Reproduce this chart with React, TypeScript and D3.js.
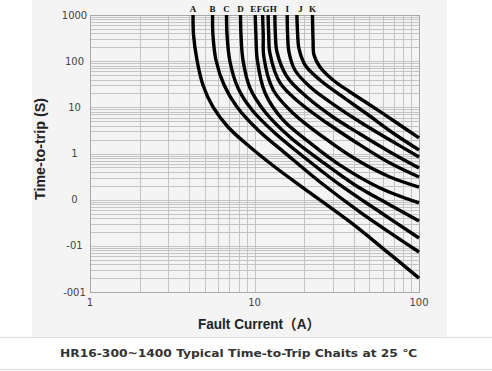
import React from 'react';
import * as d3 from 'd3';

// Trip curves: [fault current (A), time-to-trip (s)]
const curveA = [[4.23,1000],[4.26,369],[4.47,106],[4.86,30.5],[5.59,10.2],[6.90,3.75],[9.39,1.38],[13.3,0.51],[21.8,0.14],[38.1,0.0329],[62.1,0.0081],[100,0.0020]];
const curveB = [[5.56,1000],[5.59,369],[5.83,106],[6.53,30.5],[7.83,10.2],[10.5,3.23],[15.3,1.03],[25.0,0.241],[43.8,0.054],[100,0.00736]];
const curveC = [[6.76,1000],[6.81,369],[7.10,95.9],[7.94,26.2],[9.66,8.75],[13.3,2.78],[20.3,0.80],[33.1,0.208],[57.9,0.054],[100,0.0148]];
const curveD = [[8.22,1000],[8.28,369],[8.51,106],[9.39,26.2],[11.6,7.93],[16.4,2.28],[25.0,0.72],[40.8,0.208],[66.6,0.0767],[100,0.0345]];
const curveE = [[10.1,1000],[10.2,369],[10.4,106],[11.6,20.4],[14.9,5.32],[21.8,1.69],[33.1,0.56],[57.9,0.179],[100,0.085]];
const curveF = [[11.2,1000],[11.3,369],[11.4,123],[13.0,23.7],[17.1,7.54],[26.1,2.28],[42.0,0.72],[66.6,0.31],[100,0.188]];
const curveG = [[12.1,1000],[12.2,369],[12.4,150],[14.3,33.7],[18.9,12.4],[27.6,4.58],[42.0,1.69],[66.6,0.62],[100,0.31]];
const curveH = [[13.3,1000],[13.4,369],[13.7,158],[15.8,45.4],[20.8,16.7],[30.0,6.18],[43.8,2.65],[66.6,1.08],[100,0.485]];
const curveI = [[15.8,1000],[15.9,369],[16.2,158],[17.6,64.4],[21.8,27.6],[30.0,11.8],[43.8,4.81],[66.6,1.96],[100,0.84]];
const curveJ = [[18.1,1000],[18.3,369],[18.6,193],[20.3,82.6],[25.0,39.1],[33.1,18.5],[48.3,7.17],[69.5,2.78],[100,1.19]];
const curveK = [[22.5,1000],[22.7,287],[23.0,136],[25.0,74.8],[30.0,39.1],[38.1,21.5],[52.5,10.2],[73.5,4.58],[100,2.17]];

const curveNames = ['A','B','C','D','E','F','G','H','I','J','K'];
const curves = [curveA,curveB,curveC,curveD,curveE,curveF,curveG,curveH,curveI,curveJ,curveK];

const xTickValues = [1, 10, 100];
const xTickLabels = ['1', '10', '100'];
const yTickValues = [1000, 100, 10, 1, 0.1, 0.01, 0.001];
const yTickLabels = ['1000', '100', '10', '1', '0', '-01', '-001'];

const xTitle = 'Fault Current（A）';
const yTitle = 'Time-to-trip (S)';
const caption = 'HR16-300~1400 Typical Time-to-Trip Chaits at 25 ℃';

// small pixel nudges so the packed letter labels do not collide
const labelNudge = [0, 0, 0, 0, -2, -3.2, -2.2, -1.6, 0, 3.5, 0];

export default function App() {
  const W = 492, H = 371;
  const left = 90, right = 419, top = 15, bottom = 292;
  const x = d3.scaleLog().domain([1, 100]).range([left, right]);
  const y = d3.scaleLog().domain([0.001, 1000]).range([bottom, top]);
  const line = d3.line<number[]>()
    .x(d => x(d[0]))
    .y(d => y(d[1]))
    .curve(d3.curveCatmullRom.alpha(0.5));

  const xGrid = x.ticks();
  const yGrid = y.ticks();
  const sans = "'Liberation Sans', Arial, sans-serif";

  return (
    <svg width={W} height={H} viewBox={`0 0 ${W} ${H}`}
      style={{ position: 'absolute', left: 0, top: 0, background: '#fff' }}>
      <rect x={32} y={0} width={415} height={337} fill="#f4f4f4" />
      <g shapeRendering="crispEdges">
        {yGrid.map((v, i) => (
          <line key={'y' + i} x1={left} x2={right} y1={Math.round(y(v)) + 0.5} y2={Math.round(y(v)) + 0.5}
            stroke="#c4c4c4" strokeWidth={1} />
        ))}
        {xGrid.map((v, i) => (
          <line key={'x' + i} x1={Math.round(x(v)) + 0.5} x2={Math.round(x(v)) + 0.5} y1={top} y2={bottom}
            stroke="#c4c4c4" strokeWidth={1} />
        ))}
        <rect x={left + 0.5} y={top + 0.5} width={right - left} height={bottom - top}
          fill="none" stroke="#a8a8a8" strokeWidth={1} />
      </g>
      {curves.map((c, i) => (
        <path key={'c' + i} d={line(c) || ''} fill="none" stroke="#000" strokeWidth={3.4} />
      ))}
      {curves.map((c, i) => (
        <text key={'n' + i} x={x(c[0][0]) + labelNudge[i]} y={12} textAnchor="middle"
          fontFamily="'Liberation Serif', 'Times New Roman', serif" fontWeight="bold" fontSize={9} fill="#111">
          {curveNames[i]}
        </text>
      ))}
      {yTickValues.map((v, i) => (
        <text key={'yl' + i} x={74.5} y={y(v) + 3.5} textAnchor="middle"
          fontFamily="'DejaVu Sans', sans-serif" fontSize={10} fill="#444">{yTickLabels[i]}</text>
      ))}
      {xTickValues.map((v, i) => (
        <text key={'xl' + i} x={x(v)} y={306} textAnchor="middle"
          fontFamily="'DejaVu Sans', sans-serif" fontSize={10} fill="#444">{xTickLabels[i]}</text>
      ))}
      <text x={259} y={329} textAnchor="middle" fontFamily={sans + ", 'Noto Sans CJK SC'"} fontWeight="bold"
        fontSize={14} fill="#222" textLength={122} lengthAdjust="spacingAndGlyphs">{xTitle}</text>
      <text transform={`translate(45,149) rotate(-90)`} textAnchor="middle" fontFamily={sans}
        fontWeight="bold" fontSize={14} fill="#222" textLength={102} lengthAdjust="spacingAndGlyphs">{yTitle}</text>
      <line x1={0} x2={W} y1={337.5} y2={337.5} stroke="#dcdcdc" strokeWidth={1} />
      <line x1={0} x2={W} y1={369.5} y2={369.5} stroke="#dcdcdc" strokeWidth={1} />
      <text x={238.5} y={357} textAnchor="middle" fontFamily="'DejaVu Sans', Verdana, sans-serif"
        fontWeight="bold" fontSize={11} fill="#333" textLength={357} lengthAdjust="spacingAndGlyphs">{caption}</text>
    </svg>
  );
}
